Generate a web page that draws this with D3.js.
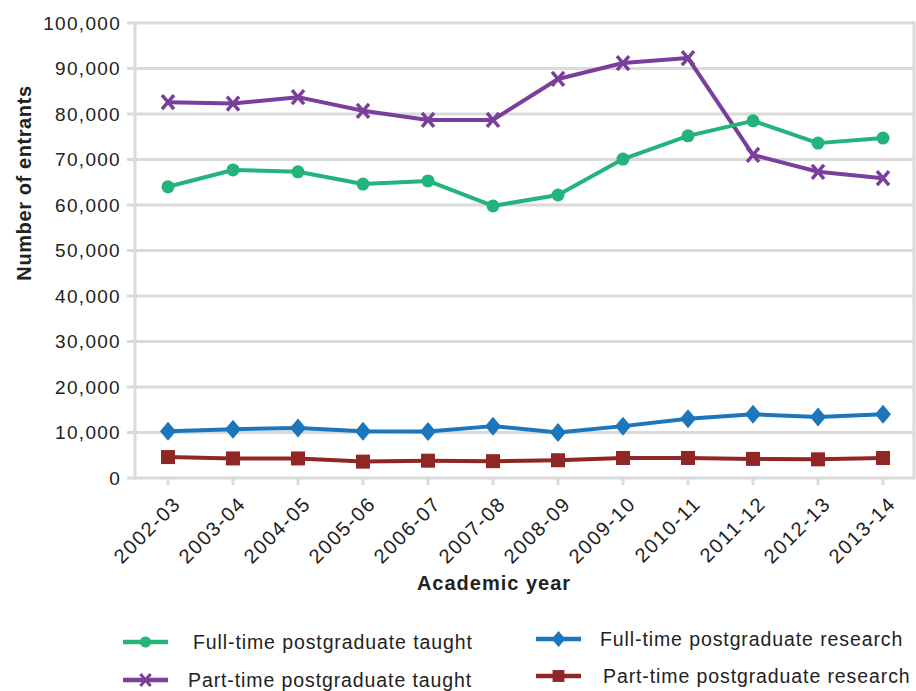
<!DOCTYPE html>
<html>
<head>
<meta charset="utf-8">
<script src="https://cdn.jsdelivr.net/npm/d3@7"></script>
<style>
  body { margin: 0; background: #fff; }
  svg text { font-family: "Liberation Sans", Arial, sans-serif; fill: #222; }
</style>
</head>
<body>
<svg class="js-chart" width="916" height="691"></svg>
<script>
var years = ['2002-03', '2003-04', '2004-05', '2005-06', '2006-07', '2007-08',
             '2008-09', '2009-10', '2010-11', '2011-12', '2012-13', '2013-14'];
var ftTaught = [64000, 67700, 67300, 64600, 65300, 59800, 62200, 70100, 75200, 78500, 73600, 74700];
var ptTaught = [82600, 82300, 83700, 80700, 78700, 78700, 87700, 91200, 92300, 71000, 67300, 65900];
var ftResearch = [10300, 10700, 11000, 10300, 10200, 11400, 10000, 11400, 13000, 14000, 13400, 14000];
var ptResearch = [4600, 4300, 4300, 3600, 3800, 3700, 3900, 4400, 4400, 4200, 4100, 4400];
var yTicks = [0, 10000, 20000, 30000, 40000, 50000, 60000, 70000, 80000, 90000, 100000];

var series = [
  { name: 'Full-time postgraduate taught', values: ftTaught, color: '#22b47a', marker: 'circle' },
  { name: 'Part-time postgraduate taught', values: ptTaught, color: '#7a3f9b', marker: 'cross' },
  { name: 'Full-time postgraduate research', values: ftResearch, color: '#1b76bc', marker: 'diamond' },
  { name: 'Part-time postgraduate research', values: ptResearch, color: '#922624', marker: 'square' }
];

var svg = d3.select('.js-chart'),
    plotLeft = 135, plotRight = 914, plotTop = 23, plotBottom = 478;

var x = d3.scalePoint().domain(years).range([168, 883]);
var y = d3.scaleLinear().domain([0, 100000]).range([plotBottom, plotTop]);

// grid lines
svg.append('g').selectAll('line')
    .data(yTicks)
    .enter()
    .append('line')
    .attr('x1', plotLeft - 8).attr('x2', plotRight)
    .attr('y1', function(d) { return y(d); }).attr('y2', function(d) { return y(d); })
    .attr('stroke', '#dadada').attr('stroke-width', 3);

// frame
[plotLeft, plotRight].forEach(function(px) {
  svg.append('line').attr('x1', px).attr('x2', px)
      .attr('y1', plotTop - 1.5).attr('y2', plotBottom + 1.5)
      .attr('stroke', '#dadada').attr('stroke-width', 3);
});

// x ticks
svg.append('g').selectAll('line')
    .data(years)
    .enter()
    .append('line')
    .attr('x1', function(d) { return x(d); }).attr('x2', function(d) { return x(d); })
    .attr('y1', plotBottom).attr('y2', plotBottom + 7)
    .attr('stroke', '#dadada').attr('stroke-width', 3);

// y labels
var fmt = d3.format(',');
svg.append('g').selectAll('text')
    .data(yTicks)
    .enter()
    .append('text')
    .attr('x', plotLeft - 14)
    .attr('y', function(d) { return y(d); })
    .attr('dy', '0.36em')
    .attr('text-anchor', 'end')
    .style('font-size', '19px').style('letter-spacing', '1.3px')
    .text(function(d) { return fmt(d); });

// x labels
svg.append('g').selectAll('text')
    .data(years)
    .enter()
    .append('text')
    .attr('transform', function(d) { return 'translate(' + (x(d) + 4) + ',' + (plotBottom + 17) + ') rotate(-45)'; })
    .attr('text-anchor', 'end')
    .attr('dy', '0.7em')
    .style('font-size', '20px').style('letter-spacing', '1.6px')
    .text(function(d) { return d; });

// axis titles
svg.append('text')
    .attr('transform', 'translate(31,183) rotate(-90)')
    .attr('text-anchor', 'middle')
    .style('font-size', '20px').style('font-weight', 'bold').style('letter-spacing', '0.6px')
    .text('Number of entrants');
svg.append('text')
    .attr('x', 494).attr('y', 590)
    .attr('text-anchor', 'middle')
    .style('font-size', '20px').style('font-weight', 'bold').style('letter-spacing', '1px')
    .text('Academic year');

function drawMarker(g, type, color, k) {
  k = k || 1;
  if (type === 'circle') {
    g.append('circle').attr('r', 6.5 * k).attr('fill', color);
  } else if (type === 'diamond') {
    g.append('path').attr('d', 'M0,-9.5L8,0L0,9.5L-8,0Z').attr('transform', 'scale(' + k + ')').attr('fill', color);
  } else if (type === 'square') {
    g.append('rect').attr('x', -7 * k).attr('y', -7 * k).attr('width', 14 * k).attr('height', 14 * k).attr('fill', color);
  } else {
    g.append('path').attr('d', 'M-6,-7L6,7M6,-7L-6,7').attr('transform', 'scale(' + k + ')')
        .attr('stroke', color).attr('stroke-width', 3.5).attr('fill', 'none');
  }
}

var line = d3.line()
    .x(function(d, i) { return x(years[i]); })
    .y(function(d) { return y(d); });

// draw lower series first so the upper lines sit on top
series.slice().reverse().forEach(function(s) {
  svg.append('path')
      .datum(s.values)
      .attr('d', line)
      .attr('fill', 'none')
      .attr('stroke', s.color)
      .attr('stroke-width', 4)
      .attr('stroke-linejoin', 'round');
  svg.append('g').selectAll('g')
      .data(s.values)
      .enter()
      .append('g')
      .attr('transform', function(d, i) { return 'translate(' + x(years[i]) + ',' + y(d) + ')'; })
      .each(function() { drawMarker(d3.select(this), s.marker, s.color); });
});

// legend
var legendPos = [[123, 642, 193], [123, 680, 188], [536, 639, 600], [536, 676, 603]];
series.forEach(function(s, i) {
  var p = legendPos[i];
  var g = svg.append('g').attr('transform', 'translate(' + p[0] + ',' + p[1] + ')');
  g.append('line').attr('x1', 0).attr('x2', 45).attr('stroke', s.color).attr('stroke-width', 4.5);
  var m = g.append('g').attr('transform', 'translate(22.5,0)');
  drawMarker(m, s.marker, s.color, 0.85);
  g.append('text')
      .attr('x', p[2] - p[0]).attr('dy', '0.36em')
      .style('font-size', '19.5px').style('letter-spacing', '0.9px')
      .text(s.name);
});
</script>
</body>
</html>
